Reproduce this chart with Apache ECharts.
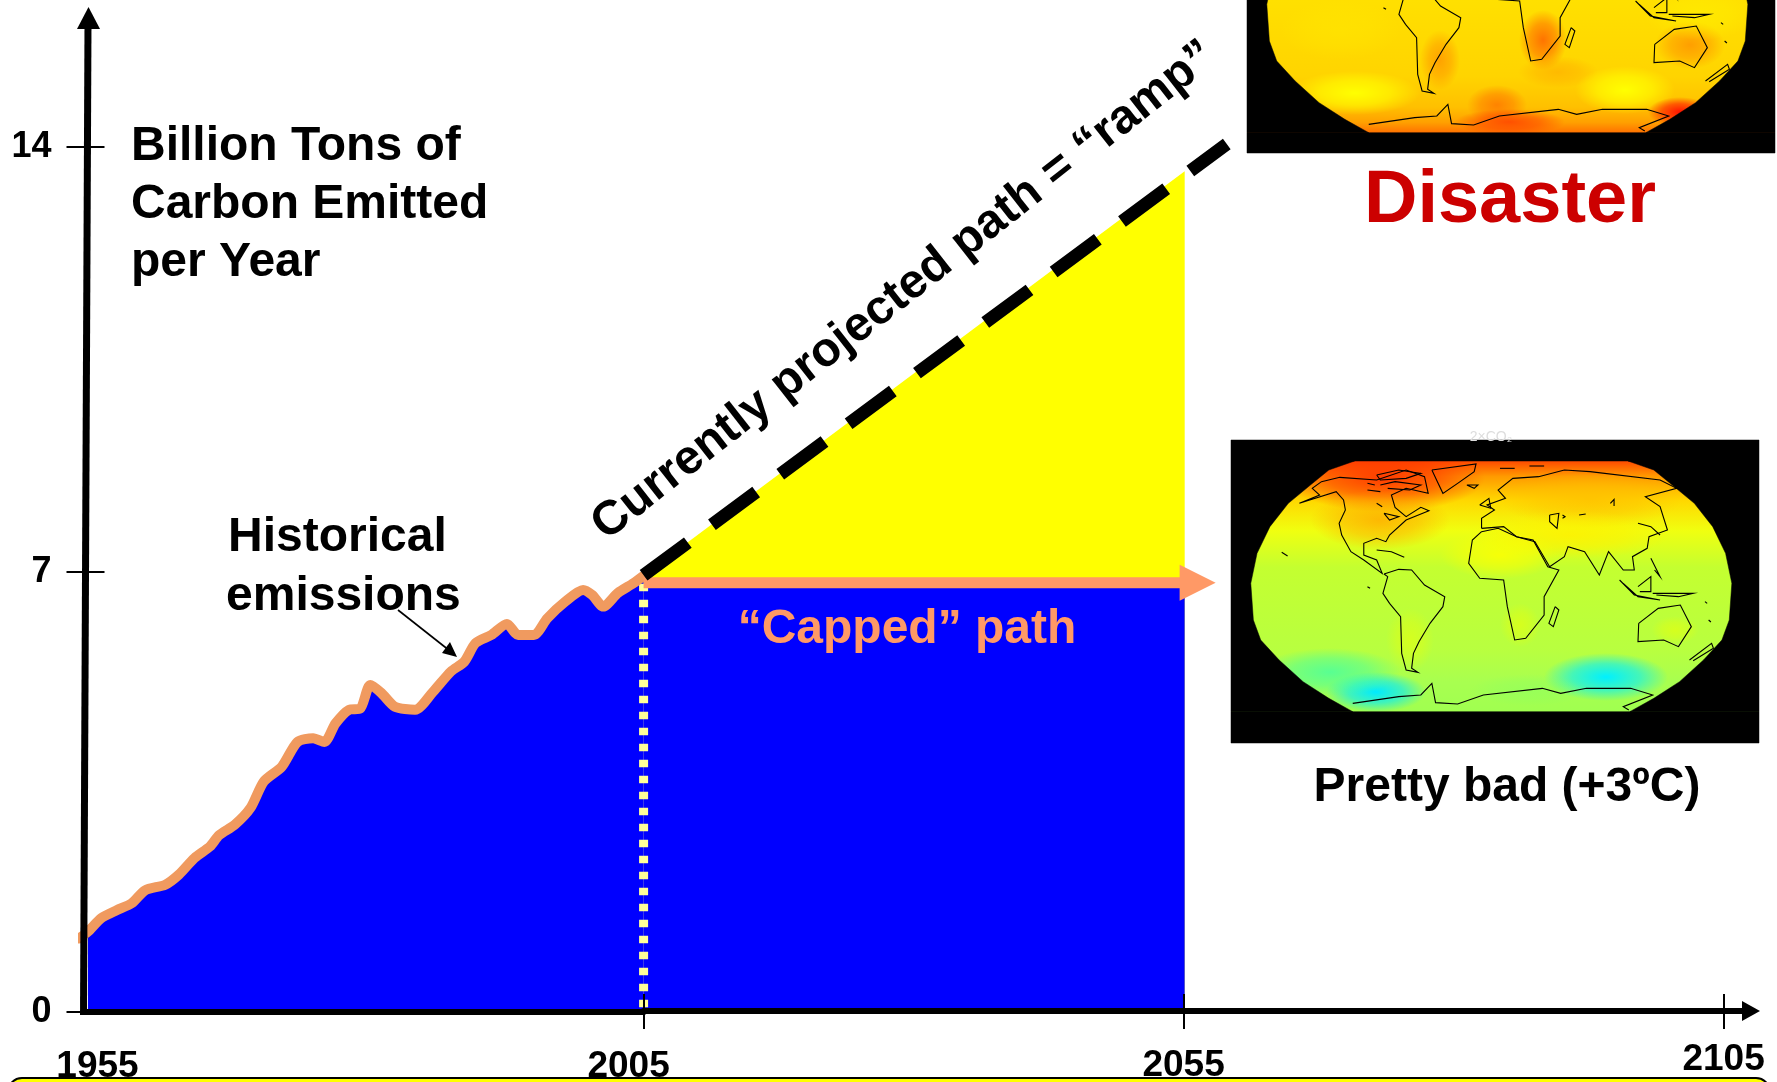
<!DOCTYPE html>
<html>
<head>
<meta charset="utf-8">
<style>html,body{margin:0;padding:0;background:#fff}#c{width:1777px;height:1082px}</style>
<script src="https://cdn.jsdelivr.net/npm/echarts@6/dist/echarts.min.js"></script>
</head>
<body>
<div id="c"></div>
<script>
// ---- data ----
const historyYears = [1954.6,1955.4,1956.6,1958,1959.3,1960.5,1962.3,1963.5,1964.9,1966.3,1967.1,1968.5,1969.9,1971.1,1972.7,1974.1,1975.5,1976.5,1977.5,1978.7,1979.7,1980.6,1981.6,1982.8,1984.6,1986.2,1987.8,1989,1990,1991.4,1992.8,1993.8,1995.2,1996.4,1998,1999.6,2000.4,2001.4,2002.7,2004.1,2005];
const historyValues = [1.19,1.30,1.52,1.65,1.76,1.97,2.06,2.22,2.49,2.68,2.86,3.03,3.30,3.73,3.97,4.37,4.43,4.37,4.67,4.89,4.91,5.29,5.16,4.94,4.89,5.18,5.51,5.67,5.97,6.10,6.28,6.10,6.10,6.37,6.64,6.83,6.75,6.56,6.78,6.94,7.06];
const rampYears = [2005,2059];
const rampValues = [7.05,14.03];
const wedgeYears = [2005,2055.1];
const wedgeValues = [7.05,13.59];
const cappedYears = [2005,2055.1];
const cappedValues = [6.93,6.93];
const capLineEndYear = 2056.3;
const dividerYears = [2005,2005];
const dividerValues = [6.93,0.05];
const xTicksHistory = [1955,2005];
const xTicksFuture = [2005,2055,2105];
const xLabelsFuture = [2055,2105];
const yTickValues = [0,7.12,14];
const titleLines = ['Billion Tons of','Carbon Emitted','per Year'];
const historyLines = ['Historical','emissions'];
const rampLabel = 'Currently projected path = “ramp”';
const cappedLabel = '“Capped” path';
const disasterLabel = 'Disaster';
const prettyBadLabel = 'Pretty bad (+3ºC)';

// ---- illustrative world-map outlines (screen sketch of the two inset pictures) ----
const continents = [
 [[270,250],[370,215],[390,240],[395,270],[378,310],[385,345],[410,395],[445,420],[495,460],[480,420],[445,405],[445,370],[480,355],[505,365],[515,345],[560,300],[622,272],[600,262],[560,290],[530,262],[520,225],[560,205],[620,220],[610,170],[560,150],[480,180],[380,172],[330,185],[305,205],[325,225],[270,250]],
 [[630,150],[750,132],[745,155],[700,190],[660,220],[645,185],[630,150]],
 [[500,462],[540,448],[575,450],[610,495],[665,530],[660,560],[625,610],[595,665],[580,700],[575,745],[592,757],[560,750],[548,700],[545,590],[515,550],[497,520],[510,470],[500,462]],
 [[765,335],[740,360],[730,430],[760,475],[825,480],[835,560],[855,660],[885,655],[935,585],[935,530],[975,450],[945,440],[905,360],[860,350],[810,325],[765,335]],
 [[765,325],[765,295],[800,270],[780,255],[830,235],[810,210],[850,175],[920,170],[990,150],[1060,155],[1250,180],[1295,205],[1210,230],[1250,260],[1270,330],[1220,350],[1215,385],[1175,410],[1180,450],[1150,450],[1110,395],[1085,465],[1045,395],[1000,380],[990,410],[950,440],[910,365],[860,350],[825,320],[765,325]],
 [[1192,610],[1245,565],[1305,555],[1335,620],[1300,680],[1260,660],[1190,665],[1192,610]],
 [[415,850],[540,830],[600,825],[630,790],[640,848],[700,852],[770,825],[930,805],[980,820],[1050,805],[1170,805],[1230,825],[1150,860],[1165,870]],
 [[965,560],[948,610],[960,620],[975,570],[965,560]],
 [[1330,720],[1390,670],[1395,685],[1340,722]],
 [[1140,480],[1180,525],[1250,540],[1190,530],[1150,490]],
 [[1190,500],[1225,470],[1225,515],[1195,515]],
 [[1230,520],[1340,520],[1300,530],[1240,525]],
 [[1225,415],[1250,470],[1235,450]],
 [[480,165],[540,150],[600,160],[560,175],[490,180],[480,165]],
 [[490,195],[530,185],[600,195],[570,210],[510,205]],
 [[455,190],[475,195]],[[455,210],[490,215]],[[480,250],[495,260]],
 [[500,280],[540,290],[515,300],[500,280]],
 [[760,255],[785,235],[790,265],[760,255]],
 [[725,195],[755,195],[745,205],[725,195]],
 [[815,145],[855,145]],[[895,138],[935,138]],
 [[1115,250],[1125,238],[1125,258]],
 [[1190,310],[1225,320],[1250,345]],
 [[950,285],[975,280],[970,325],[950,305],[950,285]],
 [[985,285],[992,290],[985,295]],[[1030,285],[1048,282]],
 [[480,390],[520,395],[555,412]],[[222,397],[238,408]],
 [[1372,545],[1378,550]],[[1382,600],[1388,606]],[[455,500],[462,505]]
];
const mapOutline = [[420,123],[350,150],[300,195],[240,250],[190,320],[155,400],[138,490],[145,600],[165,660],[215,720],[280,785],[350,835],[415,875]];

const FONT = '"Liberation Sans", Arial, sans-serif';
const LG = echarts.graphic.LinearGradient, RG = echarts.graphic.RadialGradient;
const toReal = (p, dx, dy) => [1200 + p[0] / 2.717 + dx, 420 + p[1] / 3 + dy];

function blob(cx, cy, rx, ry, rgb, a) {
  return { type:'circle', silent:true, x:cx, y:cy, scaleX:rx/ry, shape:{cx:0, cy:0, r:ry},
    style:{ fill:new RG(.5,.5,.5,[{offset:0,color:`rgba(${rgb},${a})`},{offset:.55,color:`rgba(${rgb},${a*.6})`},{offset:1,color:`rgba(${rgb},0)`}]) } };
}
function mapMask(x0, y0, x1, y1, dx, dy) {
  const left = mapOutline.map(p => toReal(p, dx, dy));
  const right = mapOutline.map(p => toReal([1583 - p[0], p[1]], dx, dy));
  const topY = left[0][1], botY = left[left.length-1][1];
  const mk = pts => ({ type:'polygon', silent:true, shape:{points:pts}, style:{fill:'#000', stroke:'#000', lineWidth:.5} });
  return [
    mk([[x0,topY],...left,[x0,botY]]),
    mk([[x1,topY],...right,[x1,botY]]),
    mk([[x0,y0],[x1,y0],[x1,topY],[x0,topY]]),
    mk([[x0,botY],[x1,botY],[x1,y1],[x0,y1]])
  ];
}
function outlines(dx, dy) {
  return continents.map(c => ({ type:'polyline', silent:true,
    shape:{ points:c.map(p => toReal(p, dx, dy)) }, style:{ stroke:'#000', fill:null, lineWidth:1.1 } }));
}
function text(t, x, y, font, fill, align, rot) {
  return { type:'text', z:60, x, y, rotation:rot||0, silent:true,
    style:{ text:t, font, fill:fill||'#000', textAlign:align||'left', textVerticalAlign:'middle' } };
}

const bottomMap = [
  { type:'rect', shape:{x:1231,y:440,width:528,height:303}, silent:true,
    style:{ fill:new LG(0,0,0,1,[{offset:0,color:'#ff3a00'},{offset:.069,color:'#ff4a00'},{offset:.12,color:'#ff9a00'},{offset:.2,color:'#ffd800'},{offset:.3,color:'#f0ff10'},{offset:.42,color:'#c4ff30'},{offset:.7,color:'#b8ff40'},{offset:.8,color:'#a8ff50'},{offset:.9,color:'#a0ff50'},{offset:1,color:'#a0ff50'}]) } },
  blob(1385,478,100,34,'255,50,0',.9),
  blob(1380,520,70,30,'255,170,0',.8),
  blob(1590,500,90,28,'255,190,0',.7),
  blob(1570,535,100,24,'255,240,0',.8),
  blob(1500,555,60,24,'255,255,0',.8),
  blob(1410,640,24,32,'240,255,0',.5),
  blob(1520,625,20,22,'240,255,0',.5),
  blob(1675,630,24,14,'240,255,0',.5),
  blob(1606,677,62,24,'0,240,255',1),
  blob(1376,692,50,20,'0,235,255',1),
  blob(1330,672,70,24,'60,255,170',.75),
  blob(1530,690,60,16,'120,255,110',.3)
];
const topMap = [
  { type:'rect', shape:{x:1247,y:0,width:528,height:153}, silent:true,
    style:{ fill:new LG(0,0,0,1,[{offset:0,color:'#ffe000'},{offset:.5,color:'#ffd400'},{offset:.7,color:'#ffc000'},{offset:.8,color:'#ffa000'},{offset:.87,color:'#ff7000'},{offset:1,color:'#ff6000'}]) } },
  blob(1543,40,24,30,'255,90,0',.8),
  blob(1440,60,20,30,'255,120,0',.55),
  blob(1690,45,35,24,'255,120,0',.6),
  blob(1558,72,40,16,'255,160,0',.5),
  blob(1355,93,65,22,'255,255,0',1),
  blob(1625,90,50,24,'255,255,0',1),
  blob(1497,105,30,20,'255,110,0',.75),
  blob(1680,112,32,15,'255,20,0',1),
  blob(1510,122,55,13,'255,60,0',.8),
  blob(1340,30,60,30,'255,235,0',.4),
  blob(1700,15,55,25,'255,240,0',.6)
];

const graphic = [].concat(
  bottomMap, mapMask(1231,440,1759,743,0,0), outlines(0,0),
  topMap, mapMask(1247,-5,1775,153,16,-579), outlines(16,-579),
  [
    text('2×CO₂', 1491, 437, '14px '+FONT, '#ddd', 'center'),
    // y axis spine, slightly leaning as drawn in the original
    { type:'line', z:20, silent:true, shape:{x1:83.5,y1:1015,x2:88,y2:24}, style:{stroke:'#000',lineWidth:7} },
    { type:'polygon', z:20, silent:true, shape:{points:[[88.5,7],[100,29],[77,29]]}, style:{fill:'#000'} },
    // annotation arrow
    { type:'line', z:20, silent:true, shape:{x1:398,y1:610,x2:450,y2:651}, style:{stroke:'#000',lineWidth:1.6} },
    { type:'polygon', z:20, silent:true, shape:{points:[[457,657],[442,653],[450,642]]}, style:{fill:'#000'} },
    // panel peeking in at the bottom edge
    { type:'rect', z:50, silent:true, shape:{x:8,y:1078,width:1762,height:40,r:14}, style:{fill:'#ffff00',stroke:'#000',lineWidth:2} },
    text(rampLabel, 904, 291, 'bold 48px '+FONT, '#000', 'center', 0.665),
    text(cappedLabel, 907, 629.5, 'bold 48px '+FONT, '#ff9966', 'center'),
    text(disasterLabel, 1510, 201.5, 'bold 74px '+FONT, '#cc0000', 'center'),
    text(prettyBadLabel, 1507, 787.5, 'bold 48px '+FONT, '#000', 'center')
  ],
  titleLines.map((t,i) => text(t, 131, 147 + i*58, 'bold 48px '+FONT)),
  historyLines.map((t,i) => text(t, i ? 226 : 228, 537.5 + i*59, 'bold 48px '+FONT))
);

const labelFont = { color:'#000', fontFamily:FONT, fontWeight:'bold', fontSize:37 };
const rich = {
  y1955:{...labelFont, padding:[6,0,0,28]},
  y2005:{...labelFont, padding:[6,30,0,0]},
  y2055:{...labelFont, padding:[6,0,0,0]},
  y2105:{...labelFont, padding:[0,0,0,0]}
};
const labelFmt = v => `{y${v}|${v}}`;
const lineAxis = { show:true, onZero:false, lineStyle:{color:'#000',width:6} };
const pairs = (xs, ys) => xs.map((x,i) => [x, ys[i]]);
const historyData = pairs(historyYears, historyValues);

const YMAX_A = 16.214, YMAX_B = 16.198;
const option = {
  animation:false,
  backgroundColor:'#fff',
  graphic:{ elements:graphic },
  grid:[
    {left:83.5, top:10, width:560.1, height:1002, outerBoundsMode:'none'},
    {left:643.6, top:10, width:1107.4, height:1001, outerBoundsMode:'none'}
  ],
  xAxis:[
    {type:'value', gridIndex:0, min:1955, max:2005, z:8, position:'bottom', splitLine:{show:false},
     axisLine:lineAxis, axisTick:{show:false},
     axisLabel:{customValues:xTicksHistory, formatter:labelFmt, rich, margin:30}},
    {type:'value', gridIndex:1, min:2005, max:2107.54, z:8, position:'bottom', splitLine:{show:false},
     axisLine:{...lineAxis, symbol:['none','triangle'], symbolSize:[20,18]},
     axisTick:{customValues:xTicksFuture, length:18, lineStyle:{color:'#000',width:2}},
     axisLabel:{customValues:xLabelsFuture, formatter:labelFmt, rich, margin:30}},
    {type:'value', gridIndex:1, min:2005, max:2107.54, z:8, position:'bottom', splitLine:{show:false},
     axisLine:{show:false, onZero:false},
     axisTick:{customValues:xTicksFuture, inside:true, length:17, lineStyle:{color:'#000',width:2}},
     axisLabel:{show:false}}
  ],
  yAxis:[
    {type:'value', gridIndex:0, min:0, max:YMAX_A, z:8, position:'left', splitLine:{show:false},
     axisLine:{show:false},
     axisTick:{show:true, customValues:yTickValues, length:17, lineStyle:{color:'#000',width:2}},
     axisLabel:{customValues:yTickValues, formatter:v => Math.round(v), margin:32, padding:[2,0,0,0], color:'#000', fontFamily:FONT, fontWeight:'bold', fontSize:36}},
    {type:'value', gridIndex:0, min:0, max:YMAX_A, z:8, position:'left', splitLine:{show:false},
     axisLine:{show:false},
     axisTick:{show:true, customValues:yTickValues.slice(1), inside:true, length:21, lineStyle:{color:'#000',width:2}},
     axisLabel:{show:false}},
    {type:'value', gridIndex:1, min:0, max:YMAX_B, show:false}
  ],
  series:[
    {name:'Ramp wedge', type:'line', xAxisIndex:1, yAxisIndex:2, z:2, clip:false, symbol:'none', silent:true,
     data:pairs(wedgeYears, wedgeValues), lineStyle:{width:0}, areaStyle:{color:'#ffff00', opacity:1}},
    {name:'Capped area', type:'line', xAxisIndex:1, yAxisIndex:2, z:3, clip:false, symbol:'none', silent:true,
     data:pairs(cappedYears, cappedValues), lineStyle:{width:0}, areaStyle:{color:'#0000ff', opacity:1}},
    {name:'Historical area', type:'line', xAxisIndex:0, yAxisIndex:0, z:3, clip:false, symbol:'none', smooth:.25, silent:true,
     data:historyData.slice(1), lineStyle:{width:0}, areaStyle:{color:'#0000ff', opacity:1}},
    {name:'Divider', type:'line', xAxisIndex:0, yAxisIndex:0, z:4, clip:false, symbol:'none', silent:true,
     data:pairs(dividerYears, dividerValues), lineStyle:{color:'#ffff99', width:9, type:[7.5,8.5], cap:'butt'}},
    {name:'Historical emissions', type:'line', xAxisIndex:0, yAxisIndex:0, z:5, clip:false, symbol:'none', smooth:.25, silent:true,
     data:historyData, lineStyle:{color:'#f09a5f', width:10, cap:'round', join:'round'}},
    {name:'Capped path', type:'line', xAxisIndex:1, yAxisIndex:2, z:6, clip:false, silent:true, showSymbol:true,
     symbol:'none',
     data:[[cappedYears[0], cappedValues[0]],
           {value:[capLineEndYear, cappedValues[1]], symbol:'triangle', symbolSize:36, symbolRotate:-90, itemStyle:{color:'#ff9966'}}],
     lineStyle:{color:'#ff9966', width:11, cap:'butt'}},
    {name:'Projected ramp', type:'line', xAxisIndex:1, yAxisIndex:2, z:7, clip:false, symbol:'none', silent:true,
     data:pairs(rampYears, rampValues), lineStyle:{color:'#000', width:13, type:[55,30], cap:'butt'}}
  ]
};
const chart = echarts.init(document.getElementById('c'), null, {width:1777, height:1082, renderer:'canvas'});
chart.setOption(option);
</script>
</body>
</html>
